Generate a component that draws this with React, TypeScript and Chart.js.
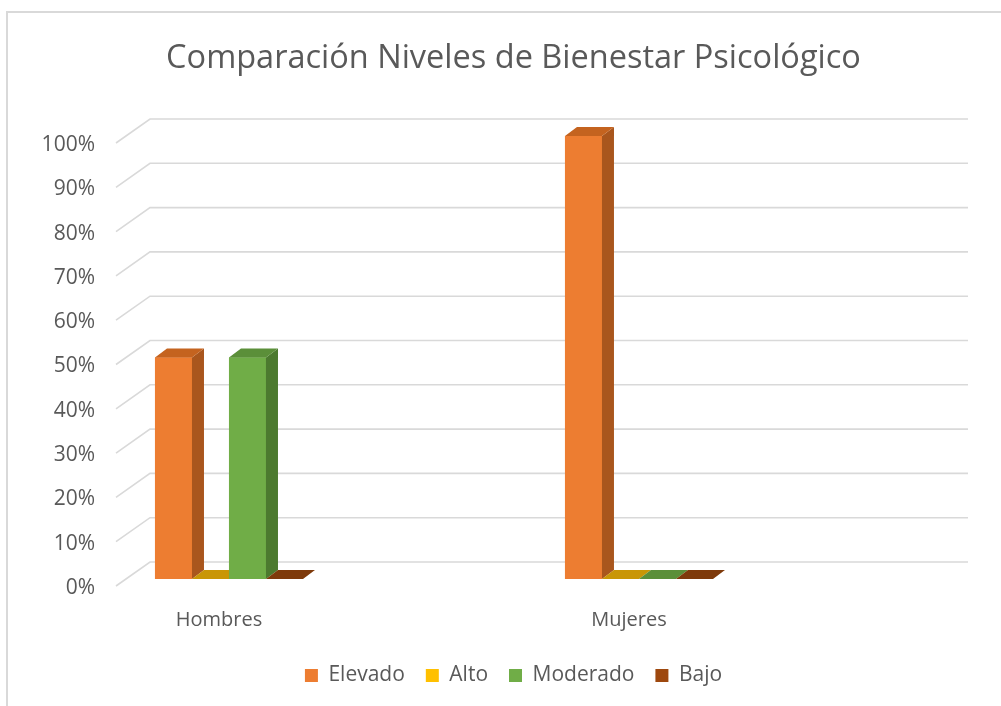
import React, { useEffect, useRef } from "react";
import { Chart, registerables } from "chart.js";

Chart.register(...registerables);

// ---- data ----
const categories = ["Hombres", "Mujeres"];
const seriesNames = ["Elevado", "Alto", "Moderado", "Bajo"];
const elevado = [0.5, 1.0];
const alto = [0, 0];
const moderado = [0.5, 0];
const bajo = [0, 0];
const yTickValues = [0, 0.1, 0.2, 0.3, 0.4, 0.5, 0.6, 0.7, 0.8, 0.9, 1.0];
const yTickLabels = ["0%", "10%", "20%", "30%", "40%", "50%", "60%", "70%", "80%", "90%", "100%"];
const titleText = "Comparación Niveles de Bienestar Psicológico";

// ---- styles ----
const frontColors = ["#ED7D31", "#FFC000", "#70AD47", "#9E480E"];
const sideColors = ["#A9561D", "#B38700", "#4C7A2F", "#6E320A"];
const topColors = ["#C4631F", "#C99606", "#5B8F39", "#7E3A0B"];
const textColor = "#595959";
const gridColor = "#d9d9d9";
const FONT = "'Open Sans', sans-serif";
const DX = 12;
const DY = 9;

const seriesValues = [elevado, alto, moderado, bajo];

const threeD = {
  id: "threeD",
  beforeDatasetsDraw(chart: any) {
    const { ctx, chartArea, scales } = chart;
    const y = scales.y;
    ctx.save();
    ctx.strokeStyle = gridColor;
    ctx.lineWidth = 1.6;
    y.ticks.forEach((t: any) => {
      const py = y.getPixelForValue(t.value);
      ctx.beginPath();
      ctx.moveTo(chartArea.left + 1, py + 7);
      ctx.lineTo(chartArea.left + 35, py - 17);
      ctx.lineTo(chartArea.right - 33, py - 17);
      ctx.stroke();
    });
    ctx.restore();
  },
  afterDatasetsDraw(chart: any) {
    const ctx = chart.ctx;
    ctx.save();
    chart.data.datasets.forEach((_ds: any, i: number) => {
      const meta = chart.getDatasetMeta(i);
      meta.data.forEach((bar: any) => {
        const { x, y, base, width } = bar.getProps(["x", "y", "base", "width"], true);
        const l = x - width / 2;
        const r = x + width / 2;
        bar.draw(ctx);
        ctx.fillStyle = sideColors[i];
        ctx.beginPath();
        ctx.moveTo(r, y);
        ctx.lineTo(r + DX, y - DY);
        ctx.lineTo(r + DX, base - DY);
        ctx.lineTo(r, base);
        ctx.closePath();
        ctx.fill();
        ctx.fillStyle = topColors[i];
        ctx.beginPath();
        ctx.moveTo(l, y);
        ctx.lineTo(l + DX, y - DY);
        ctx.lineTo(r + DX, y - DY);
        ctx.lineTo(r, y);
        ctx.closePath();
        ctx.fill();
      });
    });
    ctx.restore();
  },
};

export default function App() {
  const ref = useRef<HTMLCanvasElement | null>(null);

  useEffect(() => {
    if (!ref.current) return;
    const chart = new Chart(ref.current, {
      type: "bar",
      data: {
        datasets: seriesNames.map((name, i) => ({
          label: name,
          data: seriesValues[i].map((v, j) => ({ x: j, y: v })),
          backgroundColor: frontColors[i],
          borderWidth: 0,
          categoryPercentage: 0.361,
          barPercentage: 1,
        })),
      },
      options: {
        responsive: false,
        animation: false,
        events: [],
        layout: { padding: { left: 26, right: 0, top: 0, bottom: 10 } },
        plugins: {
          tooltip: { enabled: false },
          title: {
            display: true,
            text: titleText,
            color: textColor,
            font: { family: FONT, size: 32.5, weight: "normal" },
            padding: { top: 39, bottom: 58 },
          },
          legend: {
            position: "bottom",
            labels: {
              boxWidth: 13,
              boxHeight: 13,
              padding: 21,
              color: textColor,
              font: { family: FONT, size: 21 },
            },
          },
        },
        scales: {
          x: {
            type: "linear",
            min: -0.278,
            max: 1.883,
            offset: false,
            bounds: "data",
            afterBuildTicks: (s: any) => {
              s.ticks = categories.map((_c, i) => ({ value: i }));
            },
            ticks: {
              callback: (v: any) => categories[Math.round(Number(v))],
              color: textColor,
              font: { family: FONT, size: 20 },
              padding: 29,
              labelOffset: -10,
              autoSkip: false,
              maxRotation: 0,
            },
            grid: { display: false, drawTicks: false, offset: false },
            border: { display: false },
            afterFit: (s: any) => {
              s.height = 65;
            },
          },
          y: {
            min: 0,
            max: 1,
            afterBuildTicks: (s: any) => {
              s.ticks = yTickValues.map((v) => ({ value: v }));
            },
            ticks: {
              callback: (_v: any, idx: number) => yTickLabels[idx],
              color: textColor,
              font: { family: FONT, size: 21 },
              padding: 20,
              labelOffset: 9,
            },
            grid: { display: false, drawTicks: false },
            border: { display: false },
            afterFit: (s: any) => {
              s.width = 89;
            },
          },
        },
      },
      plugins: [threeD],
    } as any);
    return () => chart.destroy();
  }, []);

  return (
    <div style={{ position: "absolute", left: 0, top: 0, width: 1001, height: 706, overflow: "hidden", background: "#fff" }}>
      <div
        style={{
          position: "absolute",
          left: 6,
          top: 11,
          width: 1100,
          height: 800,
          border: "2px solid #d9d9d9",
        }}
      />
      <canvas ref={ref} width={1001} height={706} style={{ position: "absolute", left: 0, top: 0 }} />
    </div>
  );
}
